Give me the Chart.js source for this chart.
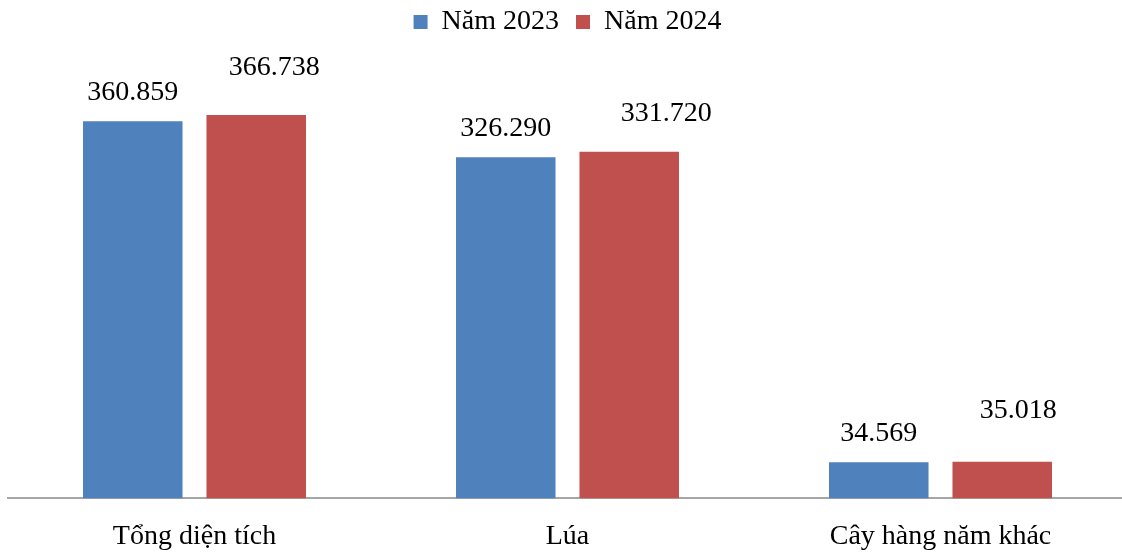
<!DOCTYPE html>
<html lang="vi">
<head>
<meta charset="utf-8">
<title>Diện tích gieo trồng</title>
<script src="https://cdn.jsdelivr.net/npm/chart.js@4/dist/chart.umd.min.js"></script>
<style>
    html, body { margin: 0; padding: 0; background: #fff; overflow: hidden; }
    #wrap { position: relative; width: 1128px; height: 554px; }
</style>
</head>
<body>
<div id="wrap"><canvas id="areaChart"></canvas></div>
<script>
// Diện tích (ha)
const categories = ['Tổng diện tích', 'Lúa', 'Cây hàng năm khác'];
const seriesNames = ['Năm 2023', 'Năm 2024'];
const values2023 = [360859, 326290, 34569];
const values2024 = [366738, 331720, 35018];

const seriesColors = ['#4f81bd', '#c0504d'];
// label nudges [dx, dy] per bar, relative to the default spot above the bar
const labelShift = [
    [[0, 0], [0, 0], [0, 0]],
    [[18, -18], [37, -9], [16, -22]]
];

const FONT = "'Liberation Serif', 'Times New Roman', serif";

function formatVi(n) {
    return String(n).replace(/\B(?=(\d{3})+(?!\d))/g, '.');
}

const valueLabels = {
    id: 'valueLabels',
    afterDatasetsDraw(chart) {
        const ctx = chart.ctx;
        ctx.save();
        ctx.font = `28px ${FONT}`;
        ctx.fillStyle = '#000';
        ctx.textAlign = 'center';
        ctx.textBaseline = 'middle';
        chart.data.datasets.forEach((ds, i) => {
            const meta = chart.getDatasetMeta(i);
            meta.data.forEach((bar, j) => {
                const [dx, dy] = labelShift[i][j];
                ctx.fillText(formatVi(ds.data[j]), bar.x + dx, bar.y - 29 + dy);
            });
        });
        ctx.restore();
    }
};

new Chart(document.getElementById('areaChart'), {
    type: 'bar',
    data: {
        labels: categories,
        datasets: [
            { label: seriesNames[0], data: values2023, backgroundColor: seriesColors[0] },
            { label: seriesNames[1], data: values2024, backgroundColor: seriesColors[1] }
        ]
    },
    options: {
        responsive: true,
        maintainAspectRatio: false,
        animation: false,
        devicePixelRatio: 1,
        categoryPercentage: 0.662,
        barPercentage: 0.806,
        layout: { padding: { left: 8, right: 1, top: -9, bottom: -20 } },
        plugins: {
            legend: {
                position: 'top',
                labels: {
                    boxWidth: 14,
                    boxHeight: 14,
                    padding: 17,
                    color: '#000',
                    font: { family: FONT, size: 28 }
                }
            },
            tooltip: { enabled: false }
        },
        scales: {
            x: {
                grid: { display: true, drawOnChartArea: false, drawTicks: false },
                border: { display: true, color: '#a6a6a6', width: 2 },
                ticks: {
                    color: '#000',
                    padding: 21,
                    font: { family: FONT, size: 28 }
                }
            },
            y: {
                display: false,
                min: 0,
                max: 432800
            }
        }
    },
    plugins: [valueLabels]
});
</script>
</body>
</html>
